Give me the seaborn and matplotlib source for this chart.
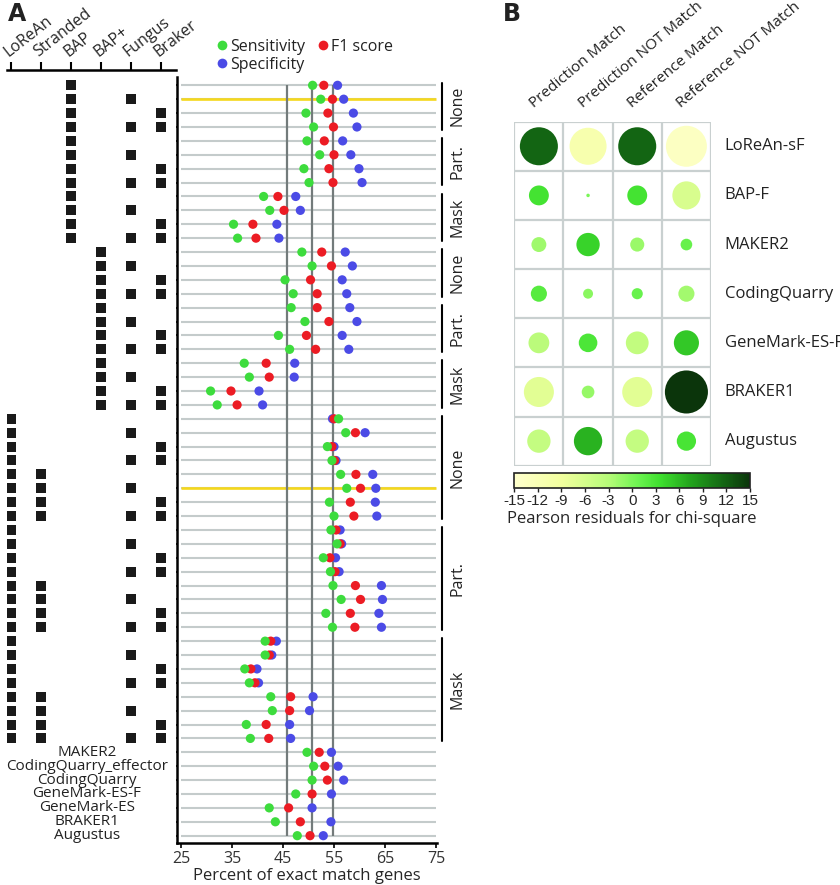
import numpy as np
import pandas as pd
import seaborn as sns
import matplotlib.pyplot as plt
from matplotlib.colors import LinearSegmentedColormap, Normalize
from matplotlib.cm import ScalarMappable
from matplotlib.lines import Line2D

# ---------------- data: panel A ----------------
# percent of exact match genes, one value per row (top to bottom)
sens = [50.8, 52.4, 49.5, 51.0, 49.7, 52.2, 49.1, 50.1, 41.2, 42.4, 35.3, 36.1,
        48.7, 50.7, 45.4, 47.0, 46.6, 49.3, 44.1, 46.3, 37.4, 38.4, 30.8, 32.1,
        55.9, 57.3, 53.7, 54.6, 56.3, 57.5, 54.1, 55.0,
        54.4, 55.6, 52.9, 54.3, 54.8, 56.4, 53.4, 54.7,
        41.5, 41.5, 37.5, 38.4, 42.6, 42.9, 37.8, 38.6,
        49.7, 51.0, 50.7, 47.5, 42.3, 43.5, 47.8]
f1 = [53.0, 54.7, 53.8, 54.9, 53.1, 55.0, 54.0, 54.8, 44.0, 45.2, 39.1, 39.7,
      52.6, 54.5, 50.4, 51.7, 51.7, 54.0, 49.6, 51.4, 41.7, 42.3, 34.8, 36.0,
      55.0, 59.2, 54.6, 55.1, 59.3, 60.2, 58.2, 58.9,
      55.4, 56.2, 54.2, 55.2, 59.2, 60.2, 58.2, 59.1,
      42.6, 42.3, 38.7, 39.5, 46.5, 46.3, 41.7, 42.2,
      52.1, 53.2, 53.7, 50.7, 46.1, 48.4, 50.3]
spec = [55.7, 56.9, 58.8, 59.5, 56.7, 58.3, 59.9, 60.5, 47.5, 48.4, 43.8, 44.2,
        57.2, 58.6, 56.6, 57.5, 58.1, 59.5, 56.6, 57.9, 47.3, 47.2, 40.3, 41.0,
        54.7, 61.1, 55.0, 55.4, 62.6, 63.2, 63.1, 63.4,
        56.2, 56.5, 55.3, 56.0, 64.3, 64.5, 63.8, 64.3,
        43.7, 42.8, 39.9, 40.2, 50.9, 50.2, 46.3, 46.5,
        54.5, 55.8, 56.9, 54.5, 50.7, 54.4, 52.9]

# which options were switched on for the first 48 rows (1 = square)
option_names = ["LoReAn", "Stranded", "BAP", "BAP+", "Fungus", "Braker"]
option_rows = {
    "LoReAn":   "0000 0000 0000 0000 0000 0000 1111 1111 1111 1111 1111 1111",
    "Stranded": "0000 0000 0000 0000 0000 0000 0000 1111 0000 1111 0000 1111",
    "BAP":      "1111 1111 1111 0000 0000 0000 0000 0000 0000 0000 0000 0000",
    "BAP+":     "0000 0000 0000 1111 1111 1111 0000 0000 0000 0000 0000 0000",
    "Fungus":   "0101 0101 0101 0101 0101 0101 0101 0101 0101 0101 0101 0101",
    "Braker":   "0011 0011 0011 0011 0011 0011 0011 0011 0011 0011 0011 0011",
}
tool_names = ["MAKER2", "CodingQuarry_effector", "CodingQuarry", "GeneMark-ES-F",
              "GeneMark-ES", "BRAKER1", "Augustus"]

groups = [("None", 0, 3), ("Part.", 4, 7), ("Mask", 8, 11),
          ("None", 12, 15), ("Part.", 16, 19), ("Mask", 20, 23),
          ("None", 24, 31), ("Part.", 32, 39), ("Mask", 40, 47)]
highlight_rows = [1, 29]
ref_lines = [45.7, 50.6, 54.9]

# ---------------- data: panel B ----------------
tools_b = ["LoReAn-sF", "BAP-F", "MAKER2", "CodingQuarry", "GeneMark-ES-F", "BRAKER1", "Augustus"]
cats_b = ["Prediction Match", "Prediction NOT Match", "Reference Match", "Reference NOT Match"]
pred_match = [11.7, 3.2, -1.8, 2.1, -3.5, -7.3, -4.4]
pred_not_match = [-11.1, 0.1, 4.4, -0.8, 2.8, -1.3, 6.5]
ref_match = [11.7, 3.2, -1.6, 1.0, -4.2, -7.3, -4.4]
ref_not_match = [-13.6, -6.4, 1.1, -2.1, 5.1, 15.0, 3.0]

# ---------------- style ----------------
sns.set_theme(style="white")
plt.rcParams["font.family"] = ["Open Sans", "DejaVu Sans"]
plt.rcParams["text.color"] = "#222222"
plt.rcParams["axes.unicode_minus"] = False

colors = {"Sensitivity": "#3ddc3d", "F1 score": "#ec1c24", "Specificity": "#4b4be6"}
W, H = 840, 885


def box(x0, y0, x1, y1):
    # pixel box (top-left origin) -> figure rect
    return [x0 / W, 1 - y1 / H, (x1 - x0) / W, (y1 - y0) / H]


fig = plt.figure(figsize=(8.4, 8.85), dpi=100)

# row i sits at pixel 85.3 + 13.896*i
def row_of(py):
    return (py - 85.3) / 13.896

n_rows = len(sens)
rows = np.arange(n_rows)

# ---------------- panel A: dots ----------------
ax = fig.add_axes(box(177, 77, 437, 843))
ax.hlines(rows, 25, 75, color="#c4cbcb", lw=1.5, zorder=1)
ax.hlines(highlight_rows, 25, 75, color="#f5d81c", lw=1.9, zorder=2)
ax.vlines(ref_lines, 0, n_rows - 1, color="#737b7b", lw=1.6, zorder=3)

long = pd.concat([
    pd.DataFrame({"row": rows, "value": spec, "metric": "Specificity"}),
    pd.DataFrame({"row": rows, "value": f1, "metric": "F1 score"}),
    pd.DataFrame({"row": rows, "value": sens, "metric": "Sensitivity"}),
])
sns.scatterplot(data=long, x="value", y="row", hue="metric", palette=colors,
                s=44, linewidth=0, legend=False, ax=ax, zorder=4)

ax.set_xlim(25 + (177 - 181) / 5.1, 25 + (437 - 181) / 5.1)
ax.set_ylim(row_of(843), row_of(77))
ax.set_xticks([25, 35, 45, 55, 65, 75])
ax.set_yticks(rows)
ax.set_yticklabels([])
ax.set_xlabel("Percent of exact match genes", fontsize=12, labelpad=1)
ax.set_ylabel("")
for s in ["top", "right"]:
    ax.spines[s].set_visible(False)
for s in ["left", "bottom"]:
    ax.spines[s].set_color("black")
    ax.spines[s].set_linewidth(1.8)
ax.tick_params(axis="y", direction="out", length=3.5, width=1.2, color="black", left=True)
ax.tick_params(axis="x", direction="out", length=3.5, width=1.2, color="black",
               bottom=True, labelsize=11.5, pad=2, labelcolor="#333333")

# brackets for None / Part. / Mask
xb = 25 + (442.3 - 181) / 5.1
xt = 25 + (457 - 181) / 5.1
for label, r0, r1 in groups:
    ax.plot([xb, xb], [r0 - 0.2, r1 + 0.2], color="black", lw=1.5, clip_on=False)
    ax.text(xt, (r0 + r1) / 2, label, rotation=90, ha="center", va="center",
            fontsize=11.5, clip_on=False)

handles = [Line2D([], [], ls="", marker="o", ms=7, mec="none", mfc=colors[k])
           for k in ["Sensitivity", "Specificity", "F1 score"]]
fig.legend(handles, ["Sensitivity", "Specificity", "F1 score"], ncol=2,
           loc="upper left", bbox_to_anchor=(206 / W, 1 - 31 / H), frameon=False,
           fontsize=11.5, handletextpad=0.0, columnspacing=0.6, labelspacing=0.1,
           handlelength=1.0, borderpad=0)

# ---------------- panel A: option matrix ----------------
axm = fig.add_axes(box(7, 70, 176, 843))
mat = []
for j, name in enumerate(option_names):
    for i, ch in enumerate(option_rows[name].replace(" ", "")):
        if ch == "1":
            mat.append((j, i))
mat = pd.DataFrame(mat, columns=["col", "row"])
sns.scatterplot(data=mat, x="col", y="row", marker="s", s=44, color="#1a1a1a",
                linewidth=0, ax=axm)
axm.set_xlim((7 - 10.7) / 30, (176 - 10.7) / 30)
axm.set_ylim(row_of(843), row_of(70))
axm.xaxis.tick_top()
axm.set_xticks(range(len(option_names)))
axm.set_xticklabels(option_names, rotation=38, ha="left", va="bottom",
                    rotation_mode="anchor", fontsize=11.5)
axm.tick_params(axis="x", direction="out", length=6, width=1.5, color="black", pad=1)
axm.set_yticks([])
axm.set_xlabel("")
axm.set_ylabel("")
for s in ["left", "right", "bottom"]:
    axm.spines[s].set_visible(False)
axm.spines["top"].set_color("black")
axm.spines["top"].set_linewidth(1.8)
for k, name in enumerate(tool_names):
    axm.text((87 - 10.7) / 30, 48 + k, name, ha="center", va="center", fontsize=11)

# ---------------- panel B: residual circles ----------------
axb = fig.add_axes(box(514.3, 121.7, 711, 465.7))
vals = pd.DataFrame({
    "tool": tools_b * 4,
    "cat": [c for c in cats_b for _ in tools_b],
    "resid": pred_match + pred_not_match + ref_match + ref_not_match,
})
vals["x"] = vals["cat"].map({c: i for i, c in enumerate(cats_b)})
vals["y"] = vals["tool"].map({t: i for i, t in enumerate(tools_b)})
vals["mag"] = vals["resid"].abs()

cmap = LinearSegmentedColormap.from_list(
    "resid", [(0.0, "#ffffcc"), (0.2, "#f2ff9e"), (0.4, "#b6fb78"),
              (0.52, "#6ff552"), (0.62, "#3ee02e"), (0.75, "#22a31c"),
              (0.88, "#146a14"), (1.0, "#0b350b")])
axb.hlines(np.arange(-0.5, 7.5, 1), -0.5, 3.5, color="#c9d0d0", lw=1.6, zorder=1)
axb.vlines(np.arange(-0.5, 4.5, 1), -0.5, 6.5, color="#c9d0d0", lw=1.6, zorder=1)
sns.scatterplot(data=vals, x="x", y="y", hue="resid", palette=cmap, hue_norm=(-15, 15),
                size="mag", sizes=(0, 961), size_norm=(0, 15), linewidth=0,
                legend=False, ax=axb, zorder=3)
axb.set_xlim(-0.5, 3.5)
axb.set_ylim(6.5, -0.5)
axb.set_xticks([])
axb.set_yticks([])
axb.set_xlabel("")
axb.set_ylabel("")
for s in axb.spines.values():
    s.set_visible(False)
for i, t in enumerate(tools_b):
    axb.text(3.78, i, t, ha="left", va="center", fontsize=12, clip_on=False)
for j, c in enumerate(cats_b):
    axb.text(j - 0.05, -0.72, c, rotation=40, ha="left", va="bottom",
             rotation_mode="anchor", fontsize=11, clip_on=False)

cax = fig.add_axes(box(514.3, 472.7, 750, 488.3))
cb = fig.colorbar(ScalarMappable(norm=Normalize(-15, 15), cmap=cmap), cax=cax,
                  orientation="horizontal", ticks=range(-15, 16, 3))
cb.outline.set_edgecolor("#222222")
cb.outline.set_linewidth(1.2)
cax.tick_params(direction="out", length=3, width=1, color="#222222",
                labelsize=11, pad=1)
for lab in cax.get_xticklabels():
    lab.set_family(["Liberation Sans", "DejaVu Sans"])
cb.set_label("Pearson residuals for chi-square", fontsize=12, labelpad=2)

fig.text(8 / W, 1 - 2 / H, "A", fontsize=17, fontweight="bold", ha="left", va="top",
         family="DejaVu Sans")
fig.text(503 / W, 1 - 2 / H, "B", fontsize=17, fontweight="bold", ha="left", va="top",
         family="DejaVu Sans")

fig.savefig("out.png", dpi=100)
